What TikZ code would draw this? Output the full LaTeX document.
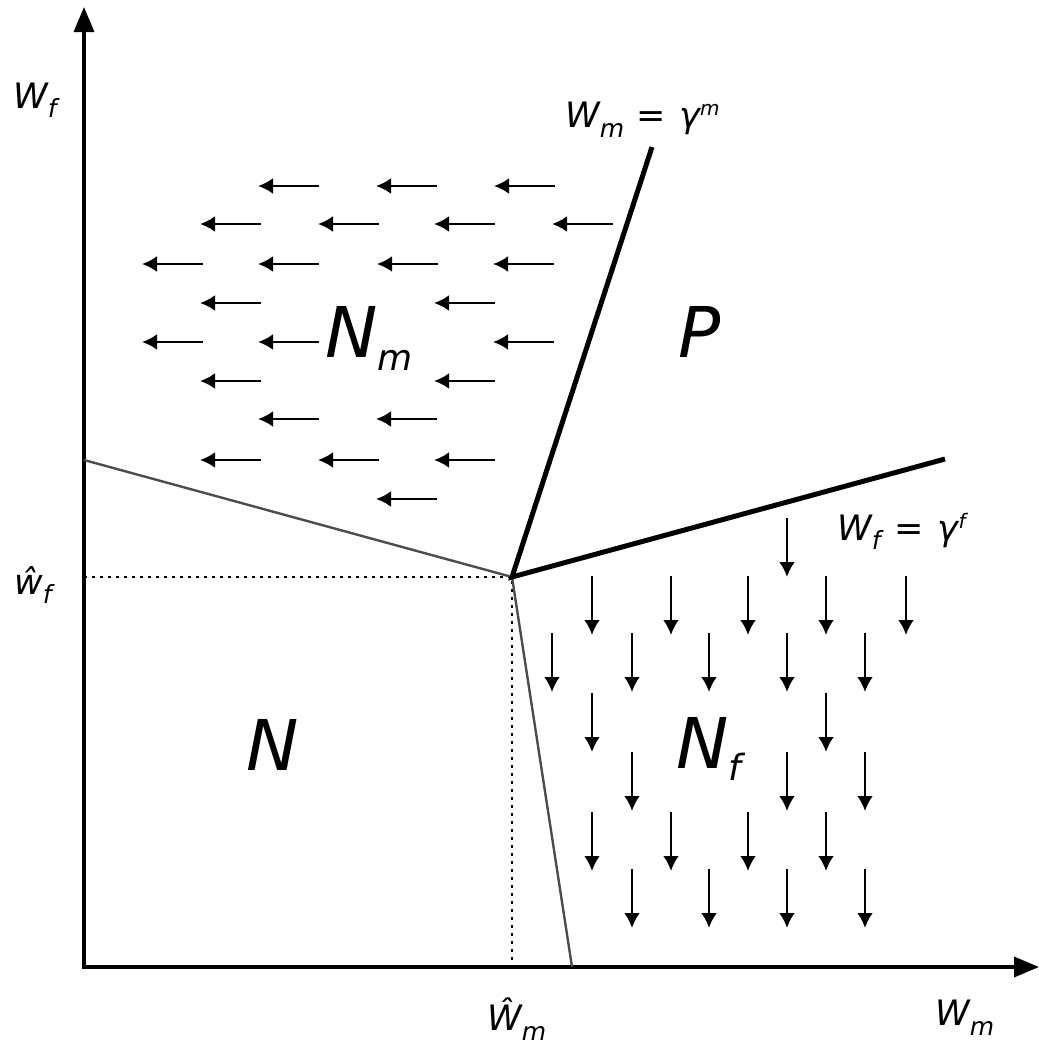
\documentclass[tikz,border=0pt]{standalone}
\usepackage{fontspec}
\setmainfont{DejaVu Sans}
\usetikzlibrary{arrows.meta}
\newcommand\lsub[2][9pt]{\raisebox{-#1}{\fontsize{25}{25}\selectfont\itshape #2}}
\newcommand\lsup[1]{\raisebox{12pt}{\fontsize{20}{20}\selectfont\itshape #1}}
\newcommand\bsub[2][13pt]{\raisebox{-#1}{\fontsize{36}{36}\selectfont\itshape #2}}
\begin{document}
\begin{tikzpicture}[x=1pt,y=-1pt,
  lbl/.style={inner sep=0pt, anchor=base west, font=\fontsize{35}{36}\selectfont\itshape},
  big/.style={inner sep=0pt, anchor=base west, font=\fontsize{70}{70}\selectfont\itshape},
  axis/.style={line width=3.4pt, {Triangle[length=25pt,width=20pt]}-{Triangle[length=25pt,width=20pt]}},
  bound/.style={line width=5pt},
  thinb/.style={line width=2.4pt, draw=black!70},
  guide/.style={line width=2.4pt, dash pattern=on 2.6pt off 5.4pt},
  farrow/.style={line width=2.8pt, -{Latex[length=15pt,width=16pt]}}]
\useasboundingbox (0,0) rectangle (1039,1045);
% axes
\coordinate (ytop) at (84,7);
\coordinate (O) at (84,967);
\coordinate (xend) at (1039,967);
\draw[axis] (ytop) -- (O) -- (xend);
% boundary lines
\coordinate (C) at (512,577);
\coordinate (Ltop) at (652,147);
\coordinate (Rtop) at (945,459);
\coordinate (Lleft) at (84,460);
\coordinate (Lbot) at (572,967);
\coordinate (Cx) at (512,967);
\coordinate (Cy) at (84,577);
\draw[guide] (Cy) -- (C) -- (Cx);
\draw[thinb] (Lleft) -- (C) -- (Lbot);
\draw[bound] (Ltop) -- (C) -- (Rtop);
% left-pointing field arrows
\foreach \y/\xs in {186/{258,376,494}, 224/{200,318,434,552}, 264/{142,258,377,493},
  303/{200,434}, 342/{142,258,493}, 381/{200,434}, 419/{258,376},
  460/{200,318,434}, 499/{376}}
  \foreach \x in \xs \draw[farrow] (\x+61,\y) -- (\x,\y);
% down-pointing field arrows
\foreach \y/\xs in {518/{787}, 576/{592,671,748,826,906}, 633/{552,632,709,787,865},
  693/{592,826}, 752/{632,787,865}, 812/{592,671,748,826}, 869/{632,709,787,865}}
  \foreach \x in \xs \draw[farrow] (\x,\y) -- (\x,\y+59);
% labels
\node[lbl] (wf) at (13,108) {W\lsub{f}};
\node[lbl] (whf) at (14,594) {ŵ\lsub{f}};
\node[lbl] (whm) at (487,1030) {Ŵ\lsub[10pt]{m}};
\node[lbl] (wm) at (935,1025) {W\lsub[10pt]{m}};
\node[lbl] (lm) at (565,127) {W\lsub[10pt]{m}\hspace{12pt}=\hspace{14pt}γ\lsup{m}};
\node[lbl] (lf) at (837,540) {W\lsub{f}\hspace{14pt}=\hspace{14pt}γ\lsup{f}};
\node[big] (Nm) at (325,357) {N\bsub{m}};
\node[big] (P) at (678,357) {P};
\node[big] (N) at (246,770) {N};
\node[big] (Nf) at (676,768) {N\bsub[12pt]{f}};
\end{tikzpicture}
\end{document}
